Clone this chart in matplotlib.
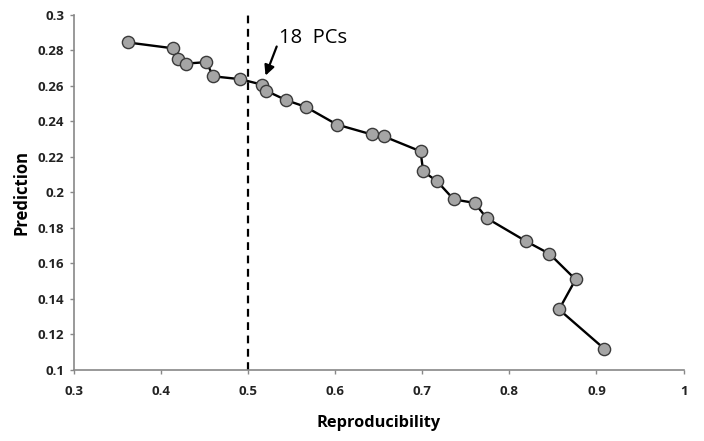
"""Prediction vs reproducibility trade-off plot."""

import matplotlib
matplotlib.use("Agg")
import matplotlib.pyplot as plt

reproducibility = [
    0.362, 0.414, 0.420, 0.429, 0.452, 0.460, 0.491, 0.516, 0.521, 0.544,
    0.566, 0.602, 0.642, 0.656, 0.698, 0.701, 0.717, 0.736, 0.760, 0.774,
    0.819, 0.846, 0.876, 0.857, 0.909,
]
prediction = [
    0.2845, 0.2812, 0.2752, 0.2726, 0.2734, 0.2654, 0.2638, 0.2607, 0.2572, 0.2519,
    0.2482, 0.2382, 0.2326, 0.2315, 0.2231, 0.2118, 0.2062, 0.1960, 0.1940, 0.1854,
    0.1724, 0.1653, 0.1508, 0.1339, 0.1117,
]
x_ticks = [0.3, 0.4, 0.5, 0.6, 0.7, 0.8, 0.9, 1.0]
x_tick_labels = ["0.3", "0.4", "0.5", "0.6", "0.7", "0.8", "0.9", "1"]
y_ticks = [0.1, 0.12, 0.14, 0.16, 0.18, 0.2, 0.22, 0.24, 0.26, 0.28, 0.3]
y_tick_labels = ["0.1", "0.12", "0.14", "0.16", "0.18", "0.2", "0.22", "0.24", "0.26", "0.28", "0.3"]
threshold = 0.5
pc_label = "18  PCs"
pc_point = (0.516, 0.2607)

plt.rcParams["font.family"] = ["Open Sans", "DejaVu Sans"]

fig = plt.figure(figsize=(7.04, 4.41), dpi=100)
ax = fig.add_axes([0.105, 0.162, 0.866, 0.804])

ax.axvline(threshold, color="black", linestyle=(0, (3.5, 2.5)), linewidth=1.6, zorder=1)
ax.plot(reproducibility, prediction, color="black", linewidth=1.7, zorder=2)
ax.plot(reproducibility, prediction, linestyle="none", marker="o", markersize=8.8,
        markerfacecolor="#a5a5a5", markeredgecolor="#3a3a3a", markeredgewidth=1.0, zorder=3)

ax.annotate(pc_label, xy=pc_point, xytext=(0.536, 0.2872),
            fontsize=14.5, ha="left", va="center",
            arrowprops=dict(arrowstyle="-|>", color="black", lw=1.6,
                            mutation_scale=15, shrinkA=0, shrinkB=7,
                            relpos=(0.0, 0.42)))

ax.set_xlim(0.3, 1.0)
ax.set_ylim(0.1, 0.3)
ax.set_xticks(x_ticks)
ax.set_xticklabels(x_tick_labels)
ax.set_yticks(y_ticks)
ax.set_yticklabels(y_tick_labels)
for lbl in ax.get_xticklabels() + ax.get_yticklabels():
    lbl.set_fontweight("bold")
    lbl.set_fontsize(9.5)
    lbl.set_color("#222222")
ax.tick_params(axis="both", direction="out", length=3, width=1, color="#888888")
ax.tick_params(axis="x", pad=8)
ax.tick_params(axis="y", pad=4)

for side in ("top", "right"):
    ax.spines[side].set_visible(False)
for side in ("left", "bottom"):
    ax.spines[side].set_color("#888888")
    ax.spines[side].set_linewidth(1.2)

ax.set_xlabel("Reproducibility", fontsize=11.8, fontweight="bold", labelpad=12)
ax.set_ylabel("Prediction", fontsize=12, fontweight="bold", labelpad=5)

fig.savefig("out.png", dpi=100)
